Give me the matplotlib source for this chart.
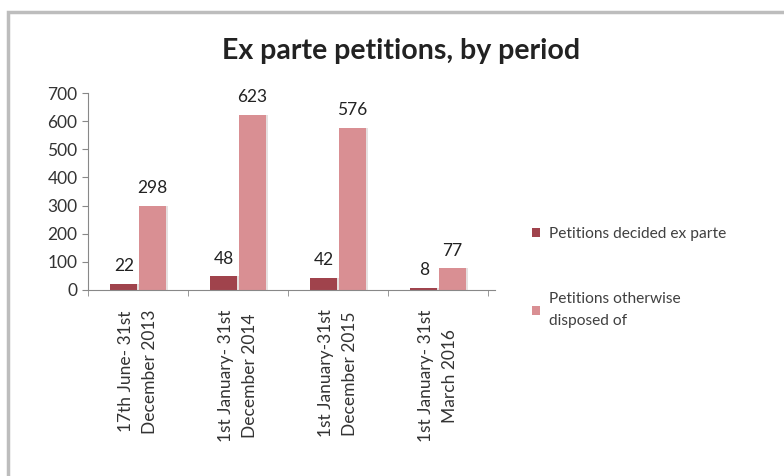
import matplotlib.pyplot as plt
from matplotlib.patches import Rectangle
import numpy as np

periods = [
    "17th June- 31st\nDecember 2013",
    "1st January- 31st\nDecember 2014",
    "1st January-31st\nDecember 2015",
    "1st January- 31st\nMarch 2016",
]
decided = [22, 48, 42, 8]
otherwise = [298, 623, 576, 77]
series_names = ["Petitions decided ex parte", "Petitions otherwise\ndisposed of"]
colors = ["#a0434c", "#d98f93"]

plt.rcParams["font.family"] = ["Lato", "DejaVu Sans"]

fig = plt.figure(figsize=(7.84, 4.76), dpi=100)
fig.patches.append(Rectangle((8 / 784, -0.05), 1.2, (476 - 12) / 476 + 0.05,
                             transform=fig.transFigure, fill=False,
                             edgecolor="#bdbdbd", linewidth=2.5))

ax = fig.add_axes([88 / 784, 1 - 290 / 476, 407 / 784, 197 / 476])
x = np.arange(len(periods))
w = 0.27
for i, (vals, c, name) in enumerate(zip([decided, otherwise], colors, series_names)):
    pos = x + (i - 0.5) * w * 1.04
    # soft shadow
    ax.bar(pos + 0.025, vals, w, color="#e6e0e0", zorder=1)
    bars = ax.bar(pos, vals, w, color=c, label=name, zorder=2)
    for b, v in zip(bars, vals):
        ax.annotate(str(v), (b.get_x() + b.get_width() / 2, v), xytext=(0, 7),
                    textcoords="offset points", ha="center", va="bottom",
                    fontsize=12.5, color="#222222")

ax.set_xlim(-0.5, len(periods) - 0.5 + 0.07)
ax.set_ylim(0, 700)
ax.set_yticks(range(0, 701, 100))
ax.set_xticks(x)
ax.set_xticklabels(periods, rotation=90, fontsize=12.5, color="#333333",
                   linespacing=1.55, va="top")
ax.tick_params(axis="x", length=0, pad=14)
ax.set_xticks(np.arange(-0.5, len(periods), 1), minor=True)
ax.tick_params(axis="x", which="minor", length=4, color="#888888")
ax.tick_params(axis="y", labelsize=12.5, colors="#333333", length=4, color="#888888")
for s in ["top", "right"]:
    ax.spines[s].set_visible(False)
for s in ["left", "bottom"]:
    ax.spines[s].set_color("#888888")

fig.text(401 / 784, 1 - 51 / 476, "Ex parte petitions, by period", ha="center",
         va="center", fontsize=20.5, fontweight="bold", color="#222222")

leg = fig.legend(loc="upper left", bbox_to_anchor=(518 / 784, 1 - 213 / 476),
                 frameon=False, fontsize=11.2, handlelength=0.5, handleheight=0.5,
                 handletextpad=0.6, labelspacing=3.3, labelcolor="#404040")
for t in leg.get_texts():
    t.set_linespacing(1.7)

fig.savefig("out.png", dpi=100)
